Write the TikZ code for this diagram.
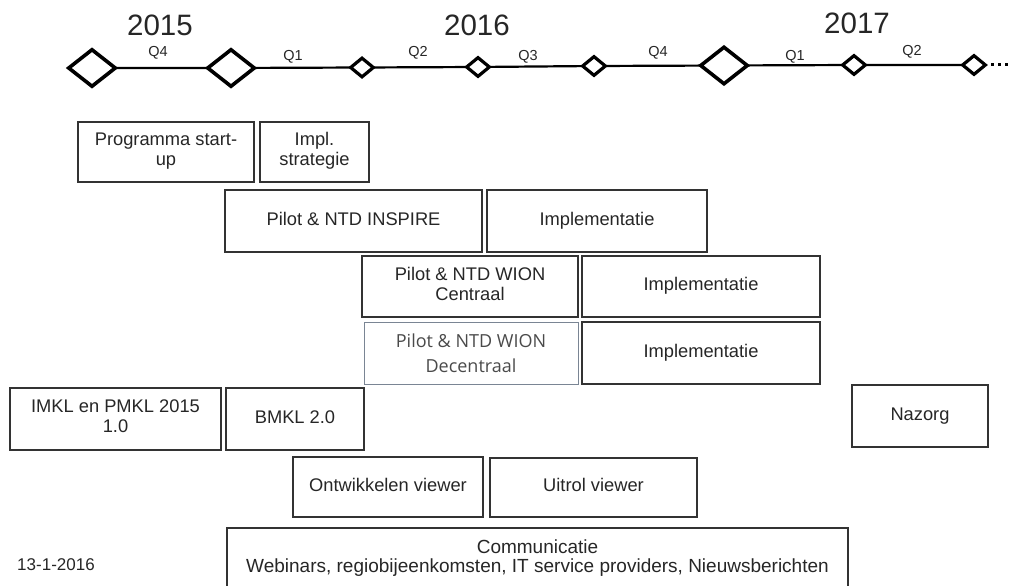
\documentclass[tikz,border=0pt]{standalone}
\usepackage{fontspec}
\setmainfont{Liberation Sans}
\newfontfamily\altfont{Open Sans}
\usetikzlibrary{shapes.geometric}
\definecolor{boxline}{HTML}{333333}
\definecolor{softline}{HTML}{7A8594}
\definecolor{softtext}{HTML}{4A4A4A}
\begin{document}
\begin{tikzpicture}[x=1pt,y=-1pt,
  bigms/.style={diamond,draw=black,line width=3.6pt,inner sep=0pt,
    minimum width=48pt,minimum height=38pt,fill=white},
  smallms/.style={diamond,draw=black,line width=3.2pt,inner sep=0pt,
    minimum width=24pt,minimum height=20pt,fill=white},
  tline/.style={line width=2.2pt,black},
  qlab/.style={font=\fontsize{14.5}{14.5}\selectfont,text=black!85,inner sep=0pt},
  year/.style={font=\fontsize{29.5}{29.5}\selectfont,text=black!85,inner sep=0pt},
  box/.style={draw=boxline,line width=1.5pt,align=center,inner sep=2pt,
    font=\fontsize{18.3}{20}\selectfont,text=black!85,
    execute at begin node=\strut,execute at end node=\strut},
  softbox/.style={draw=softline,line width=1pt,align=center,inner sep=2pt,
    font=\altfont\fontsize{18}{25}\selectfont,text=softtext},
  note/.style={font=\fontsize{17}{17}\selectfont,text=black!85,inner sep=0pt}
]
\useasboundingbox (0,0) rectangle (1012,586);
\clip (0,0) rectangle (1012,586);

% years
\node[year] (y15) at (160,25) {2015};
\node[year] (y16) at (477,25) {2016};
\node[year] (y17) at (857,23) {2017};

% timeline milestones
\coordinate (m1) at (92,68);
\coordinate (m2) at (231,68);
\coordinate (m3) at (362,67.5);
\coordinate (m4) at (478,67);
\coordinate (m5) at (594,66);
\coordinate (m6) at (724,65.5);
\coordinate (m7) at (854,65);
\coordinate (m8) at (974,65);

\draw[tline] (m1) -- (m2) -- (m3) -- (m4) -- (m5) -- (m6) -- (m7) -- (m8);

\node[bigms]   (d1) at (m1) {};
\node[bigms]   (d2) at (m2) {};
\node[smallms] (d3) at (m3) {};
\node[smallms] (d4) at (m4) {};
\node[smallms] (d5) at (m5) {};
\node[bigms]   (d6) at (m6) {};
\node[smallms] (d7) at (m7) {};
\node[smallms] (d8) at (m8) {};

% trailing dots
\foreach \i in {992,999,1006}
  \fill[black] (\i-1.5,63.5) rectangle (\i+1.5,66.5);

% quarter labels
\node[qlab] (q1) at (158,53) {Q4};
\node[qlab] (q2) at (293,57) {Q1};
\node[qlab] (q3) at (418,53) {Q2};
\node[qlab] (q4) at (528,57) {Q3};
\node[qlab] (q5) at (658,53) {Q4};
\node[qlab] (q6) at (795,57) {Q1};
\node[qlab] (q7) at (912,52) {Q2};

% activities
\node[box,minimum width=176pt,minimum height=60pt] (prog) at (166,152) {Programma start-\\up};
\node[box,minimum width=109pt,minimum height=60pt] (strat) at (314.5,152) {Impl.\\strategie};

\node[box,minimum width=257pt,minimum height=62pt] (inspire) at (353.5,221) {Pilot \& NTD INSPIRE};
\node[box,minimum width=220pt,minimum height=62pt] (impl1) at (597,221) {Implementatie};

\node[box,minimum width=216pt,minimum height=61pt] (wionc) at (470,286.5) {Pilot \& NTD WION\\Centraal};
\node[box,minimum width=238pt,minimum height=61pt] (impl2) at (701,286.5) {Implementatie};

\node[softbox,minimum width=214pt,minimum height=62pt] (wiond) at (471,353) {Pilot \& NTD WION\\Decentraal};
\node[box,minimum width=238pt,minimum height=62pt] (impl3) at (701,353) {Implementatie};

\node[box,minimum width=211pt,minimum height=62pt] (imkl) at (115.5,419) {IMKL en PMKL 2015\\1.0};
\node[box,minimum width=138pt,minimum height=62pt] (bmkl) at (295,419) {BMKL 2.0};
\node[box,minimum width=136pt,minimum height=62pt] (nazorg) at (920,416) {Nazorg};

\node[box,minimum width=190pt,minimum height=60pt] (ontw) at (388,487) {Ontwikkelen viewer};
\node[box,minimum width=207pt,minimum height=59pt] (uitrol) at (593.5,487.5) {Uitrol viewer};

\node[box,minimum width=621pt,minimum height=62pt,font=\fontsize{19}{19}\selectfont,
  execute at begin node={},execute at end node={}] (comm) at (537.5,559)
  {Communicatie\\Webinars, regiobijeenkomsten, IT service providers, Nieuwsberichten};

% footer date
\node[note] (date) at (56,565) {13-1-2016};
\end{tikzpicture}
\end{document}
